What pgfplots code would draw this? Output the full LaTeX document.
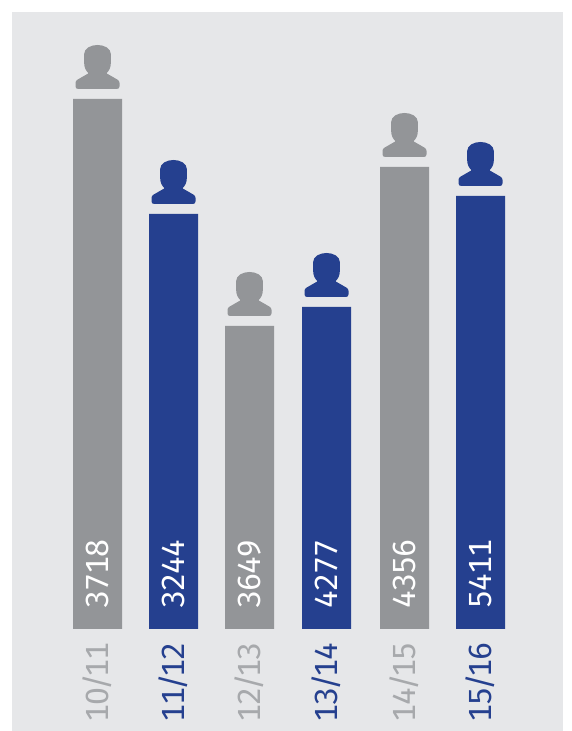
\documentclass[border=0pt]{standalone}
\usepackage{pgfplots}
\pgfplotsset{compat=1.18}
\usepackage{fontspec}
\setmainfont[Numbers=Monospaced,LetterSpace=-2.5]{Fira Sans}
\newcommand{\slh}{\kern-0.11em/\kern-0.11em}
\definecolor{panel}{HTML}{E6E7E9}
\definecolor{barg}{HTML}{939598}
\definecolor{barb}{HTML}{25408F}
\definecolor{labg}{HTML}{A7A9AC}
\pgfdeclareplotmark{person}{%
  \pgftransformscale{0.25}%
  \pgfpathmoveto{\pgfqpoint{-27pt}{77pt}}%
  \pgfpathcurveto{\pgfqpoint{-36pt}{86pt}}{\pgfqpoint{-40pt}{96pt}}{\pgfqpoint{-40pt}{108pt}}%
  \pgfpathlineto{\pgfqpoint{-40pt}{135pt}}%
  \pgfpathcurveto{\pgfqpoint{-40pt}{152pt}}{\pgfqpoint{-20pt}{162pt}}{\pgfqpoint{0pt}{162pt}}%
  \pgfpathcurveto{\pgfqpoint{20pt}{162pt}}{\pgfqpoint{40pt}{152pt}}{\pgfqpoint{40pt}{135pt}}%
  \pgfpathlineto{\pgfqpoint{40pt}{108pt}}%
  \pgfpathcurveto{\pgfqpoint{40pt}{96pt}}{\pgfqpoint{36pt}{86pt}}{\pgfqpoint{27pt}{77pt}}%
  \pgfpathlineto{\pgfqpoint{60pt}{58pt}}%
  \pgfpathcurveto{\pgfqpoint{64pt}{56pt}}{\pgfqpoint{66pt}{52pt}}{\pgfqpoint{66pt}{48pt}}%
  \pgfpathlineto{\pgfqpoint{66pt}{38pt}}%
  \pgfpathcurveto{\pgfqpoint{66pt}{33pt}}{\pgfqpoint{63pt}{30pt}}{\pgfqpoint{58pt}{30pt}}%
  \pgfpathlineto{\pgfqpoint{-58pt}{30pt}}%
  \pgfpathcurveto{\pgfqpoint{-63pt}{30pt}}{\pgfqpoint{-66pt}{33pt}}{\pgfqpoint{-66pt}{38pt}}%
  \pgfpathlineto{\pgfqpoint{-66pt}{48pt}}%
  \pgfpathcurveto{\pgfqpoint{-66pt}{52pt}}{\pgfqpoint{-64pt}{56pt}}{\pgfqpoint{-60pt}{58pt}}%
  \pgfpathclose
  \pgfusepathqfill
}
\begin{document}
\begin{tikzpicture}[x=0.75pt,y=0.75pt]
\useasboundingbox (0,0) rectangle (571,731);
\fill[panel] (12,0) rectangle (563,719);
\begin{axis}[
  at={(9pt,76.5pt)}, anchor=south west,
  scale only axis, x=0.75pt, y=0.75pt,
  xmin=-85.5, xmax=465.5, ymin=0, ymax=617,
  clip=false,
  axis line style={draw=none},
  tick style={draw=none},
  ytick=\empty,
  xtick={0,76,152,229,307,383},
  xticklabels={
    \textcolor{labg}{10\slh 11},\textcolor{barb}{11\slh 12},\textcolor{labg}{12\slh 13},
    \textcolor{barb}{13\slh 14},\textcolor{labg}{14\slh 15},\textcolor{barb}{15\slh 16}},
  xticklabel style={rotate=90, anchor=east, font=\fontsize{24pt}{24pt}\selectfont, inner sep=0pt},
  xtick pos=bottom,
  major tick length=0pt,
  xticklabel shift=10pt,
  ybar, bar shift=0pt, bar width=36.75pt,
]
\addplot[draw=none, fill=barg] coordinates {(0,530) (152,303) (307,462)};
\addplot[draw=none, fill=barb] coordinates {(76,415) (229,322) (383,433)};
\addplot[only marks, mark=person, draw=none, mark options={fill=barg, draw=none}]
  coordinates {(0,530) (152,303) (307,462)};
\addplot[only marks, mark=person, draw=none, mark options={fill=barb, draw=none}]
  coordinates {(76,415) (229,322) (383,433)};
\addplot[only marks, mark=none, draw=none, point meta=explicit symbolic,
  nodes near coords, nodes near coords align={anchor=west},
  every node near coord/.append style={rotate=90, anchor=west, text=white, inner sep=0pt,
    font=\fontsize{24pt}{24pt}\selectfont}]
  coordinates {(0,20)[3718] (76,20)[3244] (152,20)[3649] (229,20)[4277] (307,20)[4356] (383,20)[5411]};
\end{axis}
\end{tikzpicture}
\end{document}
